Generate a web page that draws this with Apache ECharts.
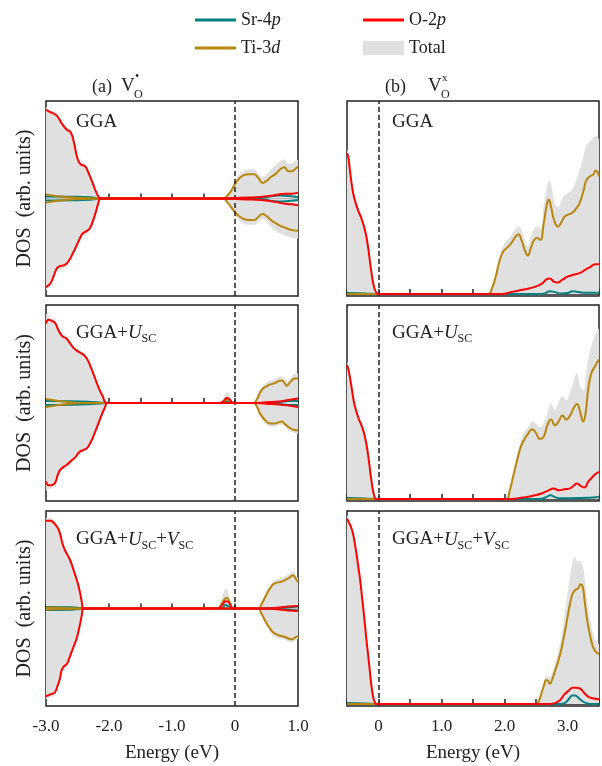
<!DOCTYPE html>
<html>
<head>
<meta charset="utf-8">
<script src="https://cdn.jsdelivr.net/npm/echarts@6.0.0/dist/echarts.min.js"></script>
<style>
  html, body { margin: 0; padding: 0; background: #ffffff; }
  #chart { width: 602px; height: 766px; }
</style>
</head>
<body>
<div id="chart"></div>
<script>
// ---------- Projected DOS, [energy (eV), DOS (arb. units)] ----------
// (a) charged vacancy: spin up (+) / spin down (-)
// row 1: GGA
const a1_Sr_up = [[-3.00,2],[-2.60,1.8],[-2.30,1.2],[-2.18,0.3],[-2.13,0],[0.20,0],[0.45,1],[0.60,2.5],[0.72,3.2],[0.85,2.5],[1.00,1.5]];
const a1_Sr_dn = [[-3.00,-2],[-2.60,-1.8],[-2.30,-1.2],[-2.18,-0.3],[-2.13,0],[0.20,0],[0.45,-1],[0.60,-2.5],[0.72,-3.2],[0.85,-2.5],[1.00,-1.5]];
const a1_Ti_up = [[-3.00,4],[-2.85,2.5],[-2.65,1.2],[-2.40,0.4],[-2.20,0],[-0.19,0],[-0.12,3],[-0.06,8],[0.00,15],[0.06,20],[0.14,24],[0.22,25],[0.30,25],[0.37,21],[0.44,16],[0.50,18],[0.57,22],[0.64,25],[0.72,30],[0.78,32],[0.85,28],[0.90,28],[0.95,30],[1.00,33]];
const a1_Ti_dn = [[-3.00,-4],[-2.85,-2.5],[-2.65,-1.2],[-2.40,-0.4],[-2.20,0],[-0.19,0],[-0.12,-4],[-0.06,-9],[0.00,-14],[0.06,-18],[0.14,-21],[0.22,-22],[0.30,-22],[0.37,-19],[0.44,-16],[0.50,-18],[0.57,-22],[0.64,-25],[0.72,-28],[0.80,-30],[0.88,-32],[1.00,-33]];
const a1_O_up = [[-3.00,91],[-2.95,89],[-2.91,88],[-2.83,85],[-2.75,77],[-2.67,70.5],[-2.61,68],[-2.56,58.5],[-2.50,41],[-2.45,35],[-2.38,33],[-2.33,27],[-2.26,16],[-2.20,6],[-2.16,1.5],[-2.13,0],[-0.20,0],[0.00,0.5],[0.20,1],[0.40,1.5],[0.60,3],[0.80,5],[0.90,5],[1.00,6]];
const a1_O_dn = [[-3.00,-91],[-2.96,-89],[-2.92,-86],[-2.87,-78],[-2.82,-71],[-2.76,-69],[-2.70,-68],[-2.64,-64],[-2.58,-57],[-2.52,-49],[-2.47,-42],[-2.42,-36],[-2.37,-34],[-2.31,-31],[-2.26,-24],[-2.21,-14],[-2.17,-5],[-2.13,0],[-0.20,0],[0.00,-0.5],[0.20,-1],[0.40,-1.5],[0.60,-3],[0.80,-5.5],[0.90,-6],[1.00,-7]];
const a1_Tot_up = [[-3.00,94],[-2.95,91],[-2.91,90],[-2.83,88],[-2.75,80],[-2.67,73],[-2.61,71],[-2.56,62],[-2.50,45],[-2.45,38],[-2.38,36],[-2.33,30],[-2.26,19],[-2.20,8],[-2.15,2],[-2.11,0],[-0.22,0],[-0.14,3],[-0.06,10],[0.00,18],[0.06,24],[0.14,28],[0.22,30],[0.30,30],[0.37,26],[0.44,22],[0.50,25],[0.57,30],[0.64,34],[0.72,38],[0.78,40],[0.85,36],[0.90,36],[0.95,38],[1.00,40]];
const a1_Tot_dn = [[-3.00,-94],[-2.96,-92],[-2.92,-89],[-2.87,-81],[-2.82,-74],[-2.76,-72],[-2.70,-71],[-2.64,-67],[-2.58,-60],[-2.52,-52],[-2.47,-45],[-2.42,-39],[-2.37,-37],[-2.31,-34],[-2.26,-27],[-2.21,-17],[-2.17,-7],[-2.13,-1],[-2.10,0],[-0.22,0],[-0.14,-4],[-0.06,-11],[0.00,-17],[0.06,-22],[0.14,-26],[0.22,-27],[0.30,-27],[0.37,-24],[0.44,-21],[0.50,-24],[0.57,-29],[0.64,-33],[0.72,-36],[0.80,-38],[0.88,-40],[1.00,-41]];

// row 2: GGA+U_SC
const a2_Sr_up = [[-3.00,2],[-2.60,1.8],[-2.25,1],[-2.08,0.2],[-2.03,0],[-0.18,0],[-0.13,1.5],[-0.08,0],[0.50,0],[0.70,1],[0.85,2],[1.00,2]];
const a2_Sr_dn = [[-3.00,-2],[-2.60,-1.8],[-2.25,-1],[-2.08,-0.2],[-2.03,0],[0.50,0],[0.70,-1],[0.85,-2],[1.00,-2]];
const a2_Ti_up = [[-3.00,4],[-2.85,2.5],[-2.65,1],[-2.40,0],[-0.24,0],[-0.17,2],[-0.13,3.5],[-0.09,2.5],[-0.04,0],[0.29,0],[0.35,4],[0.40,11],[0.45,15],[0.50,17],[0.56,19],[0.62,20],[0.68,22],[0.74,23],[0.78,21],[0.82,17.5],[0.86,20],[0.90,23],[0.95,25],[1.00,25]];
const a2_Ti_dn = [[-3.00,-4],[-2.85,-2.5],[-2.65,-1],[-2.40,0],[0.29,0],[0.35,-4],[0.40,-11],[0.50,-19],[0.56,-21],[0.62,-21],[0.68,-20],[0.74,-19],[0.80,-22],[0.86,-25],[0.92,-27],[1.00,-28]];
const a2_O_up = [[-3.00,81],[-2.96,85],[-2.92,84],[-2.86,82],[-2.80,74],[-2.74,68],[-2.68,66],[-2.62,61],[-2.56,56],[-2.50,53],[-2.45,51],[-2.40,49],[-2.34,44],[-2.28,35],[-2.22,25],[-2.16,15],[-2.10,7],[-2.03,0],[-0.24,0],[-0.18,2],[-0.13,5],[-0.09,4],[-0.04,0.5],[0.00,0],[0.30,0],[0.50,0.8],[0.70,1.5],[0.85,3],[1.00,4.5]];
const a2_O_dn = [[-3.00,-80],[-2.96,-84],[-2.92,-84],[-2.86,-82],[-2.80,-71],[-2.74,-66],[-2.67,-63],[-2.60,-59],[-2.53,-55],[-2.47,-50],[-2.41,-48],[-2.35,-46],[-2.29,-40],[-2.23,-31],[-2.17,-21],[-2.11,-11],[-2.06,-4],[-2.03,0],[0.30,0],[0.50,-0.8],[0.70,-1.5],[0.85,-2.5],[1.00,-4]];
const a2_Tot_up = [[-3.00,91],[-2.96,89],[-2.92,87],[-2.86,85],[-2.80,77],[-2.74,71],[-2.68,69],[-2.62,64],[-2.56,58],[-2.50,55],[-2.45,53],[-2.40,51],[-2.34,46],[-2.28,37],[-2.22,27],[-2.16,17],[-2.10,8],[-2.04,1],[-2.01,0],[-0.25,0],[-0.19,4],[-0.14,10],[-0.11,11],[-0.07,5],[-0.03,0],[0.27,0],[0.33,4],[0.40,14],[0.45,18],[0.50,21],[0.56,23],[0.62,24],[0.68,26],[0.74,27],[0.78,25],[0.82,22],[0.86,24],[0.90,27],[0.95,30],[1.00,30]];
const a2_Tot_dn = [[-3.00,-90],[-2.96,-88],[-2.92,-87],[-2.86,-85],[-2.80,-74],[-2.74,-69],[-2.67,-66],[-2.60,-62],[-2.53,-57],[-2.47,-52],[-2.41,-50],[-2.35,-48],[-2.29,-42],[-2.23,-33],[-2.17,-23],[-2.11,-13],[-2.06,-5],[-2.02,0],[0.27,0],[0.33,-4],[0.40,-14],[0.50,-22],[0.56,-24],[0.62,-24],[0.68,-23],[0.74,-22],[0.80,-25],[0.86,-28],[0.92,-30],[1.00,-31]];

// row 3: GGA+U_SC+V_SC
const a3_Sr_up = [[-3.00,1.5],[-2.60,1.2],[-2.45,0.4],[-2.41,0],[-0.22,0],[-0.15,3.5],[-0.10,2],[-0.05,0],[0.60,0],[0.80,1],[1.00,2]];
const a3_Sr_dn = [[-3.00,-1.5],[-2.60,-1.2],[-2.45,-0.4],[-2.41,0],[0.60,0],[0.80,-1],[1.00,-2]];
const a3_Ti_up = [[-3.00,1],[-2.70,0.5],[-2.41,0],[-0.28,0],[-0.22,4],[-0.17,9],[-0.13,11],[-0.09,7],[-0.05,1],[-0.02,0],[0.37,0],[0.41,3],[0.45,8],[0.49,13],[0.53,18],[0.57,22],[0.61,25],[0.66,26.5],[0.71,27],[0.76,28],[0.82,30],[0.87,32],[0.92,34],[0.96,31],[1.00,27]];
const a3_Ti_dn = [[-3.00,-1],[-2.70,-0.5],[-2.41,0],[0.37,0],[0.41,-4],[0.45,-9],[0.50,-15],[0.55,-20],[0.60,-24],[0.66,-26.5],[0.72,-28],[0.78,-29],[0.84,-30.5],[0.90,-31.5],[0.95,-30],[1.00,-28]];
const a3_O_up = [[-3.00,90],[-2.93,90],[-2.88,88],[-2.84,85],[-2.80,81],[-2.77,75],[-2.74,67],[-2.70,60],[-2.66,55],[-2.62,50],[-2.58,43],[-2.54,35],[-2.51,29],[-2.48,22],[-2.45,13],[-2.43,6],[-2.41,0],[-0.27,0],[-0.20,4],[-0.15,7.5],[-0.11,7],[-0.06,2],[-0.03,0],[0.50,0],[0.70,1],[0.85,2],[1.00,2.5]];
const a3_O_dn = [[-3.00,-90],[-2.93,-88],[-2.86,-86],[-2.82,-80],[-2.78,-72],[-2.75,-63],[-2.71,-59],[-2.67,-57],[-2.63,-51],[-2.59,-44],[-2.55,-37],[-2.51,-30],[-2.48,-22],[-2.45,-13],[-2.43,-6],[-2.41,0],[0.50,0],[0.70,-1],[0.85,-2],[1.00,-2.5]];
const a3_Tot_up = [[-3.00,93],[-2.93,93],[-2.88,91],[-2.84,88],[-2.80,84],[-2.77,78],[-2.74,70],[-2.70,63],[-2.66,58],[-2.62,53],[-2.58,46],[-2.54,38],[-2.51,32],[-2.48,24],[-2.45,15],[-2.43,7],[-2.40,0],[-0.30,0],[-0.24,5],[-0.19,14],[-0.15,20],[-0.12,19],[-0.08,9],[-0.04,2],[-0.01,0],[0.35,0],[0.41,5],[0.45,11],[0.49,16],[0.53,21],[0.57,25],[0.61,28],[0.66,30],[0.71,31],[0.76,32],[0.82,34],[0.87,36],[0.92,38],[0.96,35],[1.00,31]];
const a3_Tot_dn = [[-3.00,-93],[-2.93,-91],[-2.86,-89],[-2.82,-83],[-2.78,-75],[-2.75,-66],[-2.71,-62],[-2.67,-60],[-2.63,-54],[-2.59,-47],[-2.55,-39],[-2.51,-32],[-2.48,-24],[-2.45,-15],[-2.43,-7],[-2.40,0],[0.35,0],[0.41,-5],[0.45,-11],[0.50,-18],[0.55,-23],[0.60,-27],[0.66,-30],[0.72,-31],[0.78,-32],[0.84,-33.5],[0.90,-34.5],[0.95,-33],[1.00,-31]];

// (b) neutral vacancy
// row 1: GGA
const b1_Sr = [[-0.50,0.6],[-0.20,0.3],[0.00,0],[2.55,0],[2.65,0.5],[2.72,1.5],[2.80,1],[2.90,0.3],[3.00,0.5],[3.08,1.5],[3.15,1.2],[3.25,0.7],[3.50,0.7]];
const b1_Ti = [[-0.50,0],[1.74,0],[1.80,3],[1.86,9],[1.92,17],[1.98,22],[2.04,24],[2.10,26],[2.16,29],[2.22,31],[2.27,28],[2.32,23],[2.37,20],[2.42,24],[2.47,28],[2.52,29],[2.57,28],[2.62,36],[2.67,46],[2.70,49],[2.74,45],[2.79,38],[2.85,35],[2.90,37],[2.95,40],[3.00,41],[3.07,42],[3.13,44],[3.19,47],[3.25,53],[3.30,59],[3.36,61],[3.41,62],[3.45,64],[3.50,61]];
const b1_O = [[-0.50,73],[-0.48,71],[-0.46,66],[-0.43,58],[-0.40,52],[-0.36,47],[-0.32,43],[-0.28,40],[-0.24,36],[-0.20,31],[-0.16,23],[-0.12,13],[-0.08,5],[-0.04,1],[0.00,0],[1.95,0],[2.10,1],[2.25,2],[2.40,3],[2.50,4],[2.60,5.5],[2.66,7.5],[2.72,8],[2.78,6.5],[2.84,6],[2.92,7.5],[3.00,9],[3.10,10],[3.20,11],[3.28,12.5],[3.36,14],[3.44,15.5],[3.50,15.5]];
const b1_Tot = [[-0.50,75],[-0.48,73],[-0.46,68],[-0.43,60],[-0.40,54],[-0.36,49],[-0.32,45],[-0.28,42],[-0.24,38],[-0.20,33],[-0.16,25],[-0.12,14],[-0.08,6],[-0.04,1.5],[0.00,0],[1.72,0],[1.80,4],[1.86,10],[1.92,19],[1.98,25],[2.04,28],[2.10,30],[2.16,33],[2.22,35],[2.27,33],[2.32,28],[2.37,25],[2.42,30],[2.47,34],[2.52,35],[2.57,34],[2.62,45],[2.67,55],[2.71,59],[2.75,55],[2.80,47],[2.85,45],[2.90,48],[2.95,51],[3.00,52],[3.07,54],[3.13,58],[3.19,64],[3.25,71],[3.30,77],[3.36,79],[3.41,81],[3.45,82],[3.50,80]];

// row 2: GGA+U_SC
const b2_Sr = [[-0.50,0.6],[-0.20,0.3],[0.00,0],[2.55,0],[2.65,0.8],[2.73,2],[2.80,1],[2.90,0.4],[3.20,0.5],[3.50,1]];
const b2_Ti = [[-0.50,0],[2.03,0],[2.08,4],[2.14,12],[2.20,20],[2.26,27],[2.32,31],[2.38,34],[2.44,36],[2.50,34],[2.56,31],[2.62,32],[2.68,38],[2.74,41],[2.80,38],[2.86,40],[2.92,43],[2.98,41],[3.04,43],[3.10,47],[3.15,49],[3.20,45],[3.25,40],[3.29,45],[3.33,57],[3.38,65],[3.43,68],[3.50,72]];
const b2_O = [[-0.50,69],[-0.48,67],[-0.45,62],[-0.42,56],[-0.39,50],[-0.35,45],[-0.31,41],[-0.27,38],[-0.23,34],[-0.19,28],[-0.15,19],[-0.11,9],[-0.07,2],[-0.03,0],[2.10,0],[2.30,0.8],[2.45,1.7],[2.60,3],[2.70,4.5],[2.78,5.5],[2.86,4.5],[2.95,5],[3.04,5.5],[3.10,7],[3.15,8],[3.22,6.5],[3.27,6],[3.33,9],[3.40,11.5],[3.45,13],[3.50,14]];
const b2_Tot = [[-0.50,71],[-0.48,69],[-0.45,64],[-0.42,58],[-0.39,52],[-0.35,47],[-0.31,43],[-0.27,40],[-0.23,36],[-0.19,30],[-0.15,21],[-0.11,10],[-0.07,3],[-0.03,0],[2.00,0],[2.06,3],[2.14,14],[2.20,22],[2.26,30],[2.32,35],[2.38,37],[2.44,40],[2.50,39],[2.56,37],[2.62,39],[2.68,44],[2.74,49],[2.80,46],[2.86,50],[2.92,53],[2.98,51],[3.04,55],[3.10,61],[3.15,65],[3.20,58],[3.25,56],[3.29,63],[3.33,72],[3.38,79],[3.43,84],[3.50,88]];

// row 3: GGA+U_SC+V_SC
const b3_Sr = [[-0.50,0.6],[-0.20,0.3],[-0.05,0],[2.85,0],[2.95,0.5],[3.02,2.5],[3.08,4.5],[3.12,4.5],[3.18,3],[3.25,1.2],[3.32,0.3],[3.40,0],[3.50,0]];
const b3_Ti = [[-0.50,0],[2.50,0],[2.55,2],[2.59,6],[2.63,10],[2.66,12.5],[2.69,12],[2.72,10.5],[2.76,13],[2.80,17],[2.85,22],[2.90,28],[2.95,36],[3.00,45],[3.04,52],[3.08,57],[3.12,59],[3.17,60],[3.21,62],[3.24,61],[3.27,54],[3.31,44],[3.35,37],[3.40,30],[3.45,27],[3.50,26]];
const b3_O = [[-0.50,96],[-0.47,94],[-0.44,92],[-0.41,89],[-0.38,84],[-0.35,78],[-0.32,71],[-0.29,64],[-0.26,55],[-0.23,46],[-0.20,36],[-0.17,27],[-0.14,18],[-0.11,9],[-0.08,3],[-0.05,0.5],[-0.02,0],[2.70,0],[2.80,0.5],[2.88,2],[2.95,5],[3.02,7],[3.08,8.5],[3.14,8.5],[3.20,8],[3.26,6],[3.32,4],[3.40,3],[3.50,2.5]];
const b3_Tot = [[-0.50,98],[-0.47,96],[-0.44,94],[-0.41,91],[-0.38,86],[-0.35,80],[-0.32,73],[-0.29,66],[-0.26,57],[-0.23,48],[-0.20,38],[-0.17,29],[-0.14,19],[-0.11,10],[-0.08,3],[-0.05,0.5],[-0.02,0],[2.48,0],[2.55,3],[2.60,8],[2.64,13],[2.67,15],[2.70,14],[2.74,15],[2.80,21],[2.85,27],[2.90,35],[2.95,45],[3.00,57],[3.04,66],[3.08,73],[3.12,76],[3.16,74],[3.20,74],[3.24,72],[3.28,63],[3.32,52],[3.36,44],[3.41,36],[3.46,32],[3.50,31]];

// axis ranges and labels
const xRangeA = [-3.0, 1.0];
const xRangeB = [-0.5, 3.5];
const methodLabels = ['{m|GGA}', '{m|GGA+}{i|U}{s|SC}', '{m|GGA+}{i|U}{s|SC}{m|+}{i|V}{s|SC}'];
const legendNames = ['Sr-4p', 'O-2p', 'Ti-3d', 'Total'];

// ---------- styling ----------
const FONT = '"Liberation Serif", "Times New Roman", serif';
const INK = '#222222';
const COL = { Sr: '#008080', Ti: '#b8860b', O: '#ff0000', Tot: '#e0e0e0' };
const NAMES = { Sr: 'Sr-4p', Ti: 'Ti-3d', O: 'O-2p', Tot: 'Total' };

const grids = [
  { left: 46,  top: 101, width: 252, height: 195 },
  { left: 347, top: 101, width: 252, height: 195 },
  { left: 46,  top: 305, width: 252, height: 196 },
  { left: 347, top: 305, width: 252, height: 196 },
  { left: 46,  top: 511, width: 252, height: 195 },
  { left: 347, top: 511, width: 252, height: 195 }
].map(g => Object.assign({ show: true, borderColor: INK, borderWidth: 1.5, backgroundColor: 'transparent' }, g));

function tickLabel(v) {
  if (Math.abs(v - Math.round(v)) > 1e-6) return '';
  return v === 0 ? '0' : v.toFixed(1);
}

const xAxes = grids.map((g, i) => {
  const range = (i % 2 === 0) ? xRangeA : xRangeB;
  const bottom = i >= 4;
  return {
    type: 'value', gridIndex: i, min: range[0], max: range[1], interval: 0.5,
    axisLine: { show: true, lineStyle: { color: INK, width: 1.5 } },
    axisTick: { show: true, inside: true, length: 5, lineStyle: { color: INK, width: 1.5 } },
    splitLine: { show: false },
    axisLabel: { show: bottom, formatter: tickLabel, margin: 12, color: INK, fontFamily: FONT, fontSize: 17, showMinLabel: true, showMaxLabel: true },
    name: bottom ? 'Energy (eV)' : '', nameLocation: 'middle', nameGap: 38,
    nameTextStyle: { color: INK, fontFamily: FONT, fontSize: 19 }
  };
});

const yAxes = grids.map((g, i) => {
  const left = i % 2 === 0;
  return {
    type: 'value', gridIndex: i, min: left ? -100 : -1, max: 100,
    axisLine: { show: false }, axisTick: { show: false }, axisLabel: { show: false }, splitLine: { show: false },
    name: left ? 'DOS  (arb. units)' : '', nameLocation: 'middle', nameGap: 11, nameRotate: 90,
    nameTextStyle: { color: INK, fontFamily: FONT, fontSize: 20 }
  };
});

const series = [];
function addLine(key, data, gi, z, withZeroLine) {
  const s = {
    type: 'line', name: NAMES[key], data: data, xAxisIndex: gi, yAxisIndex: gi,
    symbol: 'none', showSymbol: false, smooth: 0.5, silent: true, z: z,
    itemStyle: { color: COL[key] },
    lineStyle: key === 'Tot' ? { width: 0, color: COL[key] } : { width: 2, color: COL[key] }
  };
  if (key === 'Tot') s.areaStyle = { color: COL[key], opacity: 1 };
  if (withZeroLine) {
    s.markLine = {
      silent: true, symbol: ['none', 'none'], label: { show: false }, animation: false,
      lineStyle: { type: [5, 3], color: INK, width: 1.5 },
      data: [{ xAxis: 0 }]
    };
  }
  series.push(s);
}

const panelsA = [
  { Sr: [a1_Sr_up, a1_Sr_dn], Ti: [a1_Ti_up, a1_Ti_dn], O: [a1_O_up, a1_O_dn], Tot: [a1_Tot_up, a1_Tot_dn] },
  { Sr: [a2_Sr_up, a2_Sr_dn], Ti: [a2_Ti_up, a2_Ti_dn], O: [a2_O_up, a2_O_dn], Tot: [a2_Tot_up, a2_Tot_dn] },
  { Sr: [a3_Sr_up, a3_Sr_dn], Ti: [a3_Ti_up, a3_Ti_dn], O: [a3_O_up, a3_O_dn], Tot: [a3_Tot_up, a3_Tot_dn] }
];
const panelsB = [
  { Sr: b1_Sr, Ti: b1_Ti, O: b1_O, Tot: b1_Tot },
  { Sr: b2_Sr, Ti: b2_Ti, O: b2_O, Tot: b2_Tot },
  { Sr: b3_Sr, Ti: b3_Ti, O: b3_O, Tot: b3_Tot }
];

panelsA.forEach((p, row) => {
  const gi = row * 2;
  addLine('Tot', p.Tot[0], gi, 1, false);
  addLine('Tot', p.Tot[1], gi, 1, false);
  addLine('Sr', p.Sr[0], gi, 3, true);
  addLine('Sr', p.Sr[1], gi, 3, false);
  addLine('Ti', p.Ti[0], gi, 4, false);
  addLine('Ti', p.Ti[1], gi, 4, false);
  addLine('O', p.O[0], gi, 5, false);
  addLine('O', p.O[1], gi, 5, false);
});
panelsB.forEach((p, row) => {
  const gi = row * 2 + 1;
  addLine('Tot', p.Tot, gi, 1, false);
  addLine('Sr', p.Sr, gi, 3, true);
  addLine('Ti', p.Ti, gi, 4, false);
  addLine('O', p.O, gi, 5, false);
});

// method labels inside each panel
const labelRich = {
  m: { fontFamily: FONT, fontSize: 19, lineHeight: 24, fontWeight: 'normal', color: INK },
  i: { fontFamily: FONT, fontSize: 19, lineHeight: 24, fontWeight: 'normal', fontStyle: 'italic', color: INK },
  s: { fontFamily: FONT, fontSize: 12, lineHeight: 12, fontWeight: 'normal', verticalAlign: 'bottom', color: INK }
};
const labelTops = [110.5, 321, 527.5];
const titles = [];
labelTops.forEach((t, row) => {
  [76, 392].forEach(x => titles.push({
    text: methodLabels[row], left: x, top: t, padding: 0,
    textStyle: { fontWeight: 'normal', fontFamily: FONT, rich: labelRich }
  }));
});

// legend: four single-entry legends arranged in two rows
const legendRich = { i: { fontFamily: FONT, fontSize: 18, fontStyle: 'italic', color: INK } };
function legendFmt(name) {
  if (name === 'Sr-4p') return 'Sr-4{i|p}';
  if (name === 'O-2p') return 'O-2{i|p}';
  if (name === 'Ti-3d') return 'Ti-3{i|d}';
  return name;
}
const legendPos = { 'Sr-4p': [195, 11], 'O-2p': [363, 11], 'Ti-3d': [195, 39], 'Total': [363, 39] };
const legendColor = { 'Sr-4p': COL.Sr, 'O-2p': COL.O, 'Ti-3d': COL.Ti, 'Total': COL.Tot };
const legends = legendNames.map(n => ({
  data: [{ name: n, icon: 'rect', itemStyle: { color: legendColor[n] } }],
  left: legendPos[n][0], top: legendPos[n][1], padding: 0,
  itemWidth: 41, itemHeight: n === 'Total' ? 14 : 3, selectedMode: false,
  formatter: legendFmt,
  textStyle: { fontFamily: FONT, fontSize: 18, color: INK, rich: legendRich }
}));

// panel headings with sub/superscripts
function txt(x, y, s, size) {
  return { type: 'text', x: x, y: y, silent: true,
    style: { text: s, font: size + 'px ' + FONT, fill: INK, align: 'left', verticalAlign: 'middle' } };
}
const graphics = [
  txt(92, 87, '(a)', 18), txt(121, 86, 'V', 19), txt(134, 95, 'O', 12), txt(135, 77, '\u2022', 12),
  txt(385, 87, '(b)', 18), txt(428, 86, 'V', 19), txt(441, 95, 'O', 12), txt(442, 78, 'x', 11)
];

const chart = echarts.init(document.getElementById('chart'), null, { renderer: 'canvas' });
chart.setOption({
  backgroundColor: '#ffffff',
  animation: false,
  title: titles,
  legend: legends,
  grid: grids,
  xAxis: xAxes,
  yAxis: yAxes,
  series: series,
  graphic: graphics
});
</script>
</body>
</html>
